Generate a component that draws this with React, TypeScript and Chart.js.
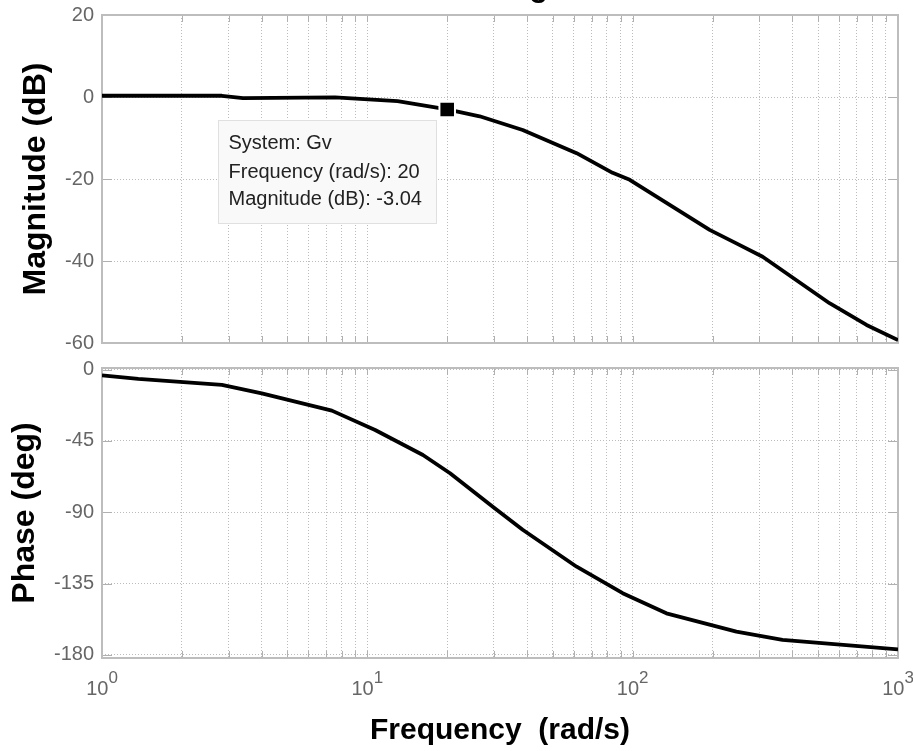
import { useEffect, useRef } from 'react';
import { Chart, registerables } from 'chart.js';

Chart.register(...registerables);

// ---- data ----
const FREQ_TICKS = [1, 2, 3, 4, 5, 6, 7, 8, 9, 10, 20, 30, 40, 50, 60, 70, 80, 90, 100, 200, 300, 400, 500, 600, 700, 800, 900, 1000];
const DECADES = [1, 10, 100, 1000];
const DECADE_EXPONENTS = ['0', '1', '2', '3'];
const MAG_TICKS = [-60, -40, -20, 0, 20];
const PHASE_TICKS = [-180, -135, -90, -45, 0];

const MAG_FREQ = [1, 2.83, 3.4, 7.55, 13, 20, 26.5, 38.5, 61.5, 84, 97.5, 195, 246, 309, 552, 761, 1000];
const MAG_DB = [0.3, 0.3, -0.25, -0.1, -1.0, -3.04, -4.7, -8.05, -13.7, -18.5, -20.2, -32.4, -35.7, -38.95, -50.3, -55.6, -59.3];

const PHASE_FREQ = [1, 1.37, 2.83, 4.0, 7.35, 10.7, 16.2, 20.5, 29.7, 38.5, 61.5, 91.7, 134, 246, 367, 1000];
const PHASE_DEG = [-3.6, -5.9, -9.7, -15.0, -25.9, -38.1, -53.9, -65.4, -86.5, -101.1, -124.4, -141.1, -153.8, -165.4, -170.6, -176.5];

const TIP_SYSTEM = 'Gv';
const TIP_FREQ = 20;
const TIP_MAG = -3.04;

const TITLE = 'Bode Diagram';
const MAG_LABEL = 'Magnitude (dB)';
const PHASE_LABEL = 'Phase (deg)';
const FREQ_LABEL = 'Frequency  (rad/s)';

// ---- style ----
const FAMILY = '"Liberation Sans", Arial, Helvetica, sans-serif';
const GRID = '#bcbcbc';
const FRAME = '#bdbdbd';
const TICK_COLOR = '#666666';
const W = 913;
const TOP_H = 356;
const BOT_H = 395;
const AXIS_W = 102;
const PAD_R = 15;

function framePlugin(id: string) {
  return {
    id,
    beforeDatasetsDraw(chart: any) {
      const { ctx, chartArea } = chart;
      const { left, right, top, bottom } = chartArea;
      const xs = chart.scales.x;
      const ys = chart.scales.y;
      ctx.save();
      ctx.strokeStyle = '#b0b0b0';
      ctx.lineWidth = 1;
      ctx.beginPath();
      xs.ticks.forEach((t: any) => {
        const x = Math.round(xs.getPixelForValue(t.value)) + 0.5;
        ctx.moveTo(x, bottom);
        ctx.lineTo(x, bottom - 7);
        ctx.moveTo(x, top);
        ctx.lineTo(x, top + 7);
      });
      ys.ticks.forEach((t: any) => {
        const y = Math.round(ys.getPixelForValue(t.value)) + 0.5;
        ctx.moveTo(left, y);
        ctx.lineTo(left + 10, y);
        ctx.moveTo(right, y);
        ctx.lineTo(right - 10, y);
      });
      ctx.stroke();
      ctx.strokeStyle = FRAME;
      ctx.lineWidth = 2;
      ctx.strokeRect(left, top, right - left, bottom - top);
      ctx.restore();
    },
  };
}

const topExtras = {
  id: 'topExtras',
  afterDraw(chart: any) {
    const { ctx, chartArea } = chart;
    const xs = chart.scales.x;
    const ys = chart.scales.y;
    ctx.save();
    // title (mostly above the visible page)
    ctx.fillStyle = '#000';
    ctx.font = `bold 31px ${FAMILY}`;
    ctx.textAlign = 'center';
    ctx.textBaseline = 'alphabetic';
    ctx.fillText(TITLE, (chartArea.left + chartArea.right) / 2, -4);

    // data tip
    const px = xs.getPixelForValue(TIP_FREQ);
    const py = ys.getPixelForValue(TIP_MAG);
    const bx = Math.round(px - 229) + 0.5;
    const by = Math.round(py + 11) + 0.5;
    const bw = 218;
    const bh = 103;
    ctx.fillStyle = '#f9f9f9';
    ctx.fillRect(bx, by, bw, bh);
    ctx.strokeStyle = '#e0e0e0';
    ctx.lineWidth = 1;
    ctx.strokeRect(bx, by, bw, bh);
    ctx.fillStyle = '#222';
    ctx.font = `20px ${FAMILY}`;
    ctx.textAlign = 'left';
    ctx.fillText(`System: ${TIP_SYSTEM}`, bx + 10, by + 28);
    ctx.fillText(`Frequency (rad/s): ${TIP_FREQ}`, bx + 10, by + 57);
    ctx.fillText(`Magnitude (dB): ${TIP_MAG.toFixed(2)}`, bx + 10, by + 84);
    ctx.restore();
  },
};

const bottomExtras = {
  id: 'bottomExtras',
  afterDraw(chart: any) {
    const { ctx, chartArea } = chart;
    const xs = chart.scales.x;
    ctx.save();
    ctx.fillStyle = TICK_COLOR;
    ctx.textAlign = 'left';
    ctx.textBaseline = 'alphabetic';
    DECADES.forEach((v, i) => {
      const x = xs.getPixelForValue(v);
      ctx.font = `20px ${FAMILY}`;
      const w1 = ctx.measureText('10').width;
      ctx.font = `17px ${FAMILY}`;
      const w2 = ctx.measureText(DECADE_EXPONENTS[i]).width;
      const start = x - (w1 + w2) / 2;
      ctx.font = `20px ${FAMILY}`;
      ctx.fillText('10', start, chartArea.bottom + 37);
      ctx.font = `17px ${FAMILY}`;
      ctx.fillText(DECADE_EXPONENTS[i], start + w1, chartArea.bottom + 25);
    });
    ctx.restore();
  },
};

function xScale(height: number, title?: string) {
  return {
    type: 'logarithmic',
    min: 1,
    max: 1000,
    afterBuildTicks: (s: any) => {
      s.ticks = FREQ_TICKS.map((v) => ({ value: v, major: DECADES.includes(v) }));
    },
    afterFit: (s: any) => {
      s.height = height;
      s.paddingLeft = 0;
      s.paddingRight = 0;
    },
    ticks: { display: false, autoSkip: false },
    grid: { color: GRID, lineWidth: 1, drawTicks: false },
    border: { display: false, dash: [1, 2] },
    title: title
      ? {
          display: true,
          text: title,
          color: '#000',
          font: { family: FAMILY, size: 30, weight: 'bold', lineHeight: 1.2 },
          padding: { top: 0, bottom: 2.4 },
        }
      : { display: false },
  };
}

function yScale(min: number, max: number, ticks: number[], title: string, titlePad: number) {
  return {
    type: 'linear',
    min,
    max,
    afterBuildTicks: (s: any) => {
      s.ticks = ticks.map((v) => ({ value: v }));
    },
    afterFit: (s: any) => {
      s.width = AXIS_W;
      s.paddingTop = 0;
      s.paddingBottom = 0;
    },
    ticks: {
      autoSkip: false,
      color: TICK_COLOR,
      padding: 8,
      font: { family: FAMILY, size: 20, lineHeight: 1 },
      callback: (v: any) => String(v),
    },
    grid: { color: GRID, lineWidth: 1, drawTicks: false },
    border: { display: false, dash: [1, 2] },
    title: {
      display: true,
      text: title,
      color: '#000',
      font: { family: FAMILY, size: 32, weight: 'bold', lineHeight: 1.2 },
      padding: { top: titlePad, bottom: 0 },
    },
  };
}

export default function App() {
  const topRef = useRef<HTMLCanvasElement>(null);
  const botRef = useRef<HTMLCanvasElement>(null);

  useEffect(() => {
    const magPoints = MAG_FREQ.map((f, i) => ({ x: f, y: MAG_DB[i] }));
    const phasePoints = PHASE_FREQ.map((f, i) => ({ x: f, y: PHASE_DEG[i] }));

    const common = {
      animation: false,
      responsive: false,
      devicePixelRatio: 1,
      plugins: { legend: { display: false }, tooltip: { enabled: false }, title: { display: false } },
      events: [],
    };

    const top = new Chart(topRef.current as HTMLCanvasElement, {
      type: 'line',
      data: {
        datasets: [
          {
            data: [{ x: TIP_FREQ, y: TIP_MAG }],
            showLine: false,
            pointStyle: 'rect',
            pointRadius: 11,
            backgroundColor: '#000',
            borderColor: '#fff',
            borderWidth: 2,
            order: 0,
            clip: false,
          },
          {
            data: magPoints,
            borderColor: '#000',
            borderWidth: 3.8,
            pointRadius: 0,
            tension: 0,
            borderJoinStyle: 'round',
            order: 1,
          },
        ],
      },
      options: {
        ...common,
        layout: { padding: { top: 15, right: PAD_R, left: 0, bottom: 0 } },
        scales: {
          x: xScale(TOP_H - 343),
          y: yScale(-60, 20, MAG_TICKS, MAG_LABEL, 17),
        },
      } as any,
      plugins: [framePlugin('frameTop'), topExtras],
    } as any);

    const bot = new Chart(botRef.current as HTMLCanvasElement, {
      type: 'line',
      data: {
        datasets: [
          {
            data: phasePoints,
            borderColor: '#000',
            borderWidth: 3.8,
            pointRadius: 0,
            tension: 0,
            borderJoinStyle: 'round',
          },
        ],
      },
      options: {
        ...common,
        layout: { padding: { top: 12, right: PAD_R, left: 0, bottom: 0 } },
        scales: {
          x: xScale(93, FREQ_LABEL),
          y: yScale(-182, 1, PHASE_TICKS, PHASE_LABEL, 6),
        },
      } as any,
      plugins: [framePlugin('frameBottom'), bottomExtras],
    } as any);

    return () => {
      top.destroy();
      bot.destroy();
    };
  }, []);

  return (
    <div
      style={{
        position: 'fixed',
        left: 0,
        top: 0,
        width: W,
        height: 751,
        background: '#fff',
        overflow: 'hidden',
      }}
    >
      <canvas
        ref={topRef}
        width={W}
        height={TOP_H}
        style={{ position: 'absolute', left: 0, top: 0, width: W, height: TOP_H }}
      />
      <canvas
        ref={botRef}
        width={W}
        height={BOT_H}
        style={{ position: 'absolute', left: 0, top: TOP_H, width: W, height: BOT_H }}
      />
    </div>
  );
}
